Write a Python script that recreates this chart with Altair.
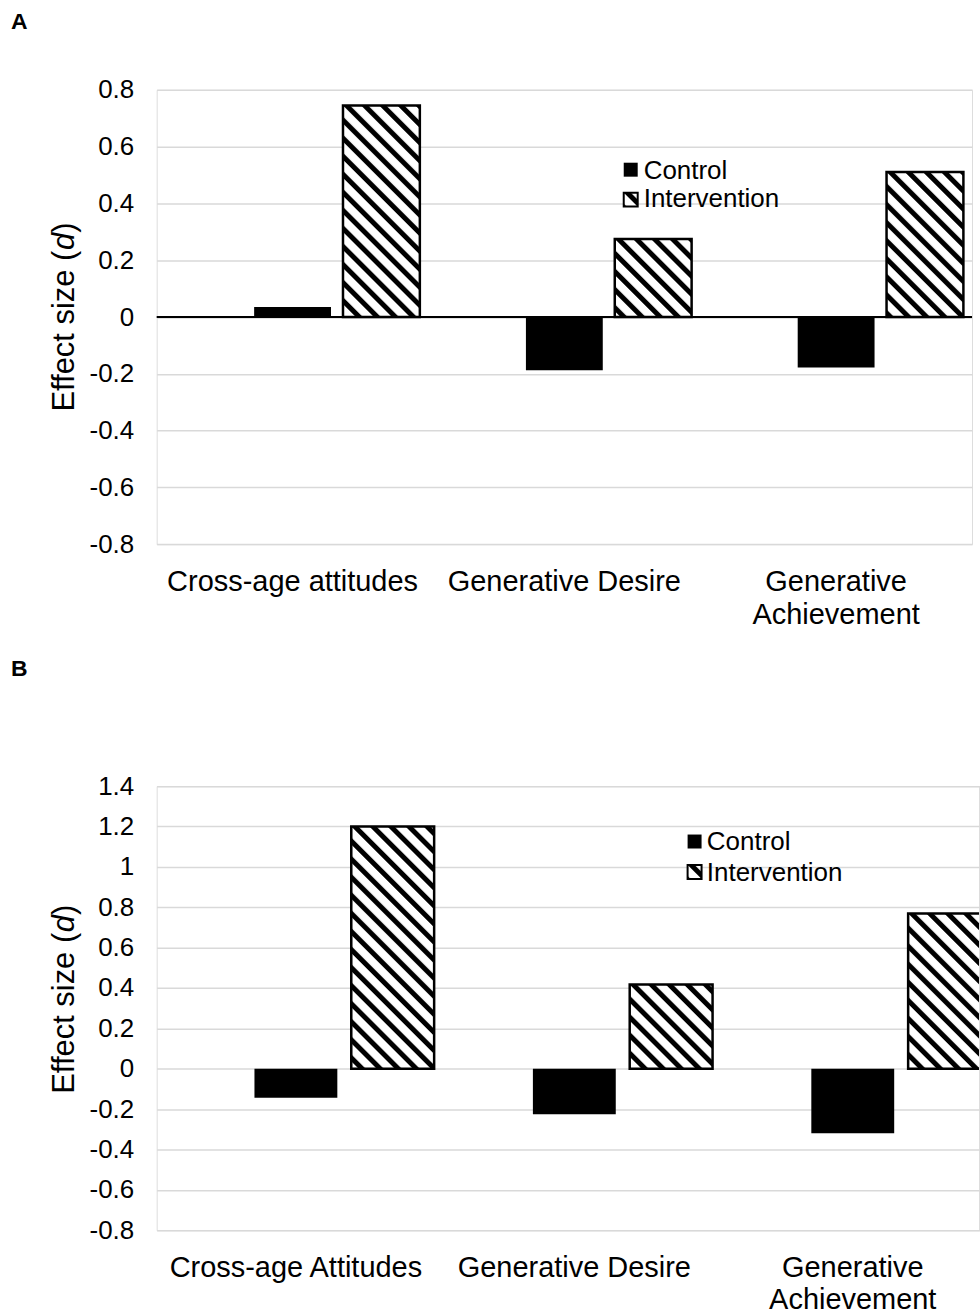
import base64

import altair as alt
import pandas as pd

FONT = "Liberation Sans"

# ---- data -------------------------------------------------------------
series = ["Control", "Intervention"]

categories_a = ["Cross-age attitudes", "Generative Desire", "Generative Achievement"]
control_a = [0.035, -0.187, -0.178]
intervention_a = [0.745, 0.275, 0.511]
ticks_a = [-0.8, -0.6, -0.4, -0.2, 0, 0.2, 0.4, 0.6, 0.8]

categories_b = ["Cross-age Attitudes", "Generative Desire", "Generative Achievement"]
control_b = [-0.144, -0.225, -0.319]
intervention_b = [1.2, 0.417, 0.769]
ticks_b = [-0.8, -0.6, -0.4, -0.2, 0, 0.2, 0.4, 0.6, 0.8, 1, 1.2, 1.4]

# ---- diagonal hatch used as the fill of the Intervention bars ----------
HATCH_SVG = (
    '<svg xmlns="http://www.w3.org/2000/svg" width="100%" height="100%">'
    '<defs><pattern id="p" patternUnits="userSpaceOnUse" width="12.8" height="12.8" '
    'patternTransform="rotate(-45)">'
    '<rect width="12.8" height="12.8" fill="#ffffff"/>'
    '<rect width="5" height="12.8" fill="#000000"/>'
    "</pattern></defs>"
    '<rect width="100%" height="100%" fill="url(#p)"/></svg>'
)
HATCH_URL = "data:image/svg+xml;base64," + base64.b64encode(HATCH_SVG.encode()).decode()

one = pd.DataFrame({"k": [0]})

# advance widths (em) of the y title pieces: "Effect size (", italic "d", ")"
TITLE_EM = [5.224, 0.556, 0.333]
TITLE_SIZE = 31

# long category names are broken over two lines
SPLIT_EXPR = (
    "datum.measure == 'Generative Achievement' ? ['Generative', 'Achievement'] : datum.measure"
)


def long_table(cats, ctrl, intv):
    rows = [{"measure": c, "group": series[0], "d": v} for c, v in zip(cats, ctrl)]
    rows += [{"measure": c, "group": series[1], "d": v} for c, v in zip(cats, intv)]
    return pd.DataFrame(rows)


def panel(tag, cats, ctrl, intv, ticks, width, height, x_span, pad_in, pad_out,
          leg, title_shift, black_zero, line_height):
    df = long_table(cats, ctrl, intv)

    x = alt.X(
        "measure:N",
        sort=cats,
        scale=alt.Scale(domain=cats, range=[0, x_span], paddingInner=0, paddingOuter=0),
        axis=None,
    )
    # an unused first slot in every group pushes the two bars right of centre
    xo = alt.XOffset(
        "group:N",
        scale=alt.Scale(domain=[" "] + series, paddingInner=pad_in, paddingOuter=pad_out),
    )
    y = alt.Y(
        "d:Q",
        scale=alt.Scale(domain=[ticks[0], ticks[-1]], nice=False, zero=False),
        axis=alt.Axis(
            title=None, values=ticks, labelExpr="'' + datum.value",
            domain=False, ticks=False, grid=True, gridColor="#d9d9d9", gridWidth=1.5,
            labelFont=FONT, labelFontSize=26, labelPadding=23, labelColor="#000000",
        ),
    )

    base = alt.Chart(df).encode(x=x, xOffset=xo, y=y)
    ctrl_bars = base.transform_filter(alt.datum.group == series[0]).mark_bar(
        color="#000000", clip=True
    )
    intv = base.transform_filter(alt.datum.group == series[1])
    hatch = intv.mark_image(aspect=False, clip=True).encode(
        y2=alt.datum(0), url=alt.value(HATCH_URL)
    )
    outline = intv.mark_bar(fillOpacity=0, stroke="#000000", strokeWidth=2.5, clip=True)

    layers = []
    if black_zero:
        layers.append(alt.Chart(one).mark_rule(color="#000000", strokeWidth=2).encode(y=alt.datum(0)))
    layers += [ctrl_bars, hatch, outline]

    # category labels under the plot
    labels = (
        alt.Chart(pd.DataFrame({"measure": cats}))
        .transform_calculate(lbl=SPLIT_EXPR)
        .mark_text(baseline="top", font=FONT, fontSize=29, lineHeight=line_height,
                   color="#000000")
        .encode(x=x, y=alt.value(height + 24), text="lbl:N")
    )
    layers.append(labels)

    # legend
    sx, sy1, sy2, tx, tb1, tb2 = leg
    s = 14
    layers.append(alt.Chart(one).mark_rect(color="#000000").encode(
        x=alt.value(sx), x2=alt.value(sx + s), y=alt.value(sy1), y2=alt.value(sy1 + s)))
    layers.append(alt.Chart(one).mark_image(aspect=False).encode(
        x=alt.value(sx), x2=alt.value(sx + s), y=alt.value(sy2), y2=alt.value(sy2 + s),
        url=alt.value(HATCH_URL)))
    layers.append(alt.Chart(one).mark_rect(fillOpacity=0, stroke="#000000", strokeWidth=2).encode(
        x=alt.value(sx), x2=alt.value(sx + s), y=alt.value(sy2), y2=alt.value(sy2 + s)))
    for txt, base_y in zip(series, [tb1, tb2]):
        layers.append(alt.Chart(one).mark_text(
            align="left", baseline="alphabetic", font=FONT, fontSize=26, color="#000000"
        ).encode(x=alt.value(tx), y=alt.value(base_y), text=alt.value(txt)))

    # y title "Effect size (d)" with an italic d, reading upward
    widths = [e * TITLE_SIZE for e in TITLE_EM]
    start = height / 2 + title_shift + sum(widths) / 2
    pieces = [("Effect size (", "normal"), ("d", "italic"), (")", "normal")]
    pos = start
    for (txt, style), w in zip(pieces, widths):
        layers.append(alt.Chart(one).mark_text(
            align="left", baseline="alphabetic", angle=270, font=FONT,
            fontSize=TITLE_SIZE, fontStyle=style, color="#000000",
        ).encode(x=alt.value(-83), y=alt.value(pos), text=alt.value(txt)))
        pos -= w

    # panel tag
    layers.append(alt.Chart(one).mark_text(
        align="left", baseline="alphabetic", font=FONT, fontSize=23,
        fontWeight="bold", color="#000000",
    ).encode(x=alt.value(-146), y=alt.value(tag[1]), text=alt.value(tag[0])))

    return alt.layer(*layers).properties(width=width, height=height)


panel_a = panel(("A", -60.7), categories_a, control_a, intervention_a, ticks_a,
                width=817, height=455.3, x_span=817, pad_in=0.135, pad_out=0.097,
                leg=(468, 73, 103, 488, 89.3, 117.6), title_shift=0, black_zero=True,
                line_height=33)

panel_b = panel(("B", -110.7), categories_b, control_b, intervention_b, ticks_b,
                width=824, height=445, x_span=837, pad_in=0.144, pad_out=0.01,
                leg=(532, 48.5, 79, 551.3, 63.6, 95), title_shift=-9, black_zero=False,
                line_height=32)

chart = (
    alt.vconcat(panel_a, panel_b, spacing=25.7)
    .resolve_scale(x="independent", xOffset="independent", y="independent")
    .properties(padding={"left": 10, "top": 8.7, "right": 0, "bottom": 0})
    .configure_view(strokeWidth=0)
    .configure(font=FONT)
)

chart.save("out.html", embed_options={"renderer": "svg", "actions": False})
